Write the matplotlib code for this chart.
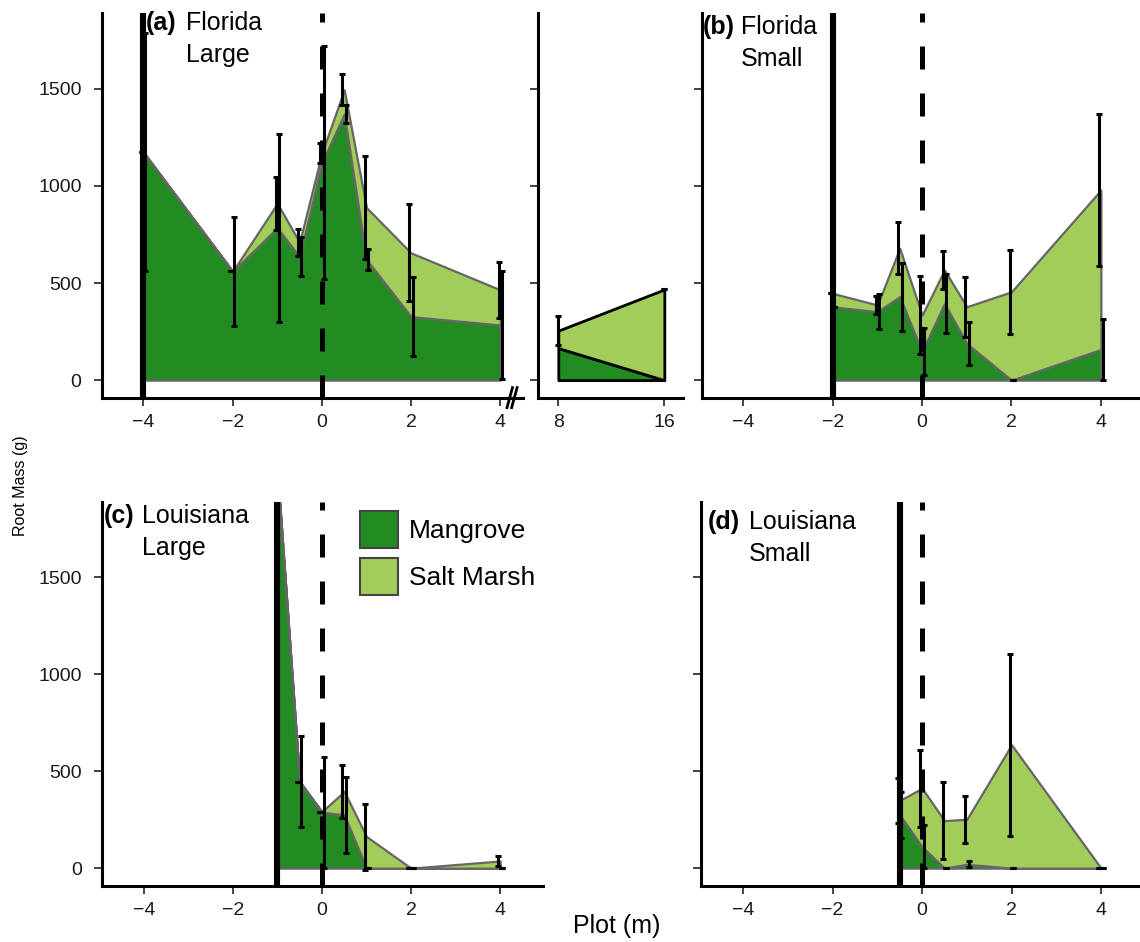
import numpy as np
import matplotlib
matplotlib.use("Agg")
import matplotlib.pyplot as plt
from matplotlib.patches import Patch
from matplotlib.lines import Line2D

plt.rcParams['font.family'] = ['Liberation Sans', 'DejaVu Sans']
plt.rcParams['axes.unicode_minus'] = True

# ---- data (root mass, g) ----
# (a) Florida Large
xa = [-4, -2, -1, -0.5, 0, 0.5, 1, 2, 4]
mang_a = [1173, 560, 785, 635, 1120, 1370, 621, 327, 284]
salt_a = [0, 0, 125, 75, 50, 125, 267, 328, 181]
mang_se_a = [613, 280, 485, 100, 600, 45, 55, 205, 280]
salt_se_a = [0, 0, 135, 70, 50, 80, 265, 250, 145]

# (a) far plots
x_far = [8, 16]
mang_far = [165, 0]
salt_far = [90, 467]
salt_se_far = [75, 0]

# (b) Florida Small
xb = [-2, -1, -0.5, 0, 0.5, 1, 2, 4]
mang_b = [378, 352, 430, 146, 395, 189, 0, 158]
salt_b = [69, 35, 249, 189, 172, 189, 455, 821]
mang_se_b = [0, 90, 175, 120, 153, 112, 0, 158]
salt_se_b = [0, 45, 133, 200, 100, 155, 215, 393]

# (c) Louisiana Large
xc = [-1, -0.5, 0, 0.5, 1, 2, 4]
mang_c = [2050, 446, 288, 275, 0, 0, 0]
salt_c = [0, 0, 4, 120, 163, 0, 37]
mang_se_c = [0, 236, 285, 195, 0, 0, 0]
salt_se_c = [0, 0, 0, 135, 170, 0, 25]

# (d) Louisiana Small
xd = [-0.5, 0, 0.5, 1, 2, 4]
mang_d = [275, 111, 0, 20, 0, 0]
salt_d = [74, 301, 245, 232, 636, 0]
mang_se_d = [120, 110, 0, 15, 0, 0]
salt_se_d = [115, 198, 200, 120, 470, 0]

# edge of stand for each panel
edges = [-4, -2, -1, -0.5]
titles = [("(a)", "Florida\nLarge"), ("(b)", "Florida\nSmall"),
          ("(c)", "Louisiana\nLarge"), ("(d)", "Louisiana\nSmall")]

dark = '#228B22'
light = '#A2CD5A'
outline = '#666666'

W, H = 1140, 942
fig = plt.figure(figsize=(W / 100, H / 100), dpi=100)

def px(l, b, r, t):
    return [l / W, 1 - b / H, (r - l) / W, (b - t) / H]

ax_a = fig.add_axes(px(101.7, 398, 523, 13.3))
ax_far = fig.add_axes(px(538.3, 398, 683, 13.3))
ax_b = fig.add_axes(px(701.7, 398, 1140, 13.3))
ax_c = fig.add_axes(px(102.3, 886, 542.7, 501.7))
ax_d = fig.add_axes(px(701, 886, 1140, 501.7))

ylim = (-92, 1889)

def style(ax, ylabels=True):
    for s in ['top', 'right']:
        ax.spines[s].set_visible(False)
    for s in ['left', 'bottom']:
        ax.spines[s].set_linewidth(2.2)
        ax.spines[s].set_color('black')
    ax.set_ylim(*ylim)
    ax.set_yticks([0, 500, 1000, 1500])
    ax.tick_params(axis='both', length=5.5, width=1.3, color='#333333',
                   labelsize=14, labelcolor='#1a1a1a')
    ax.tick_params(axis='x', pad=6)
    ax.tick_params(axis='y', pad=9)
    if not ylabels:
        ax.set_yticklabels([])

def panel(ax, x, m, s, mse, sse, edge, xlim):
    x = np.array(x, float)
    m = np.array(m, float)
    tot = m + np.array(s, float)
    ax.fill_between(x, 0, m, facecolor=dark, edgecolor=outline, lw=1.6, zorder=2)
    ax.fill_between(x, m, tot, facecolor=light, edgecolor=outline, lw=1.6, zorder=2)
    ax.axvline(edge, color='black', lw=4.4, zorder=3)
    ax.axvline(0, color='black', lw=3.6, ls=(0, (4.6, 4.8)), zorder=3)
    d = 0.04
    ax.errorbar(x - d, tot, yerr=sse, fmt='none', ecolor='black',
                elinewidth=2.2, capsize=2.5, capthick=2.2, zorder=4)
    ax.errorbar(x + d, m, yerr=mse, fmt='none', ecolor='black',
                elinewidth=2.2, capsize=2.5, capthick=2.2, zorder=4)
    ax.set_xlim(*xlim)
    ax.set_xticks([-4, -2, 0, 2, 4])

panel(ax_a, xa, mang_a, salt_a, mang_se_a, salt_se_a, edges[0], (-4.937, 4.509))
panel(ax_b, xb, mang_b, salt_b, mang_se_b, salt_se_b, edges[1], (-4.93, 4.875))
panel(ax_c, xc, mang_c, salt_c, mang_se_c, salt_se_c, edges[2], (-4.93, 4.955))
panel(ax_d, xd, mang_d, salt_d, mang_se_d, salt_se_d, edges[3], (-4.94, 4.87))

# far plots (8 and 16 m)
xf = np.array(x_far, float)
mf = np.array(mang_far, float)
tf = mf + np.array(salt_far, float)
ax_far.fill_between(xf, 0, mf, facecolor=dark, edgecolor='black', lw=2, zorder=2)
ax_far.fill_between(xf, mf, tf, facecolor=light, edgecolor='black', lw=2, zorder=2)
ax_far.errorbar(xf, tf, yerr=salt_se_far, fmt='none', ecolor='black',
                elinewidth=2.2, capsize=2.5, capthick=2.2, zorder=4)
ax_far.set_xlim(6.49, 17.41)
ax_far.set_xticks([8, 16])

style(ax_a)
style(ax_far, False)
style(ax_b, False)
style(ax_c)
style(ax_d, False)

# axis break mark
for off in (0.0, 0.011):
    ax_a.add_line(Line2D([0.962 + off, 0.975 + off], [-0.025, 0.027],
                         transform=ax_a.transAxes, color='black', lw=2,
                         clip_on=False))

# panel labels
for (b, t), (x0, x1, y0) in zip(titles, [(146, 186, 11), (702.7, 740.7, 15),
                                       (104, 141.7, 504), (708, 749, 510)]):
    fig.text(x0 / W, 1 - y0 / H, b, fontsize=18, fontweight='bold', va='top', ha='left')
    fig.text(x1 / W, 1 - y0 / H, t, fontsize=18, va='top', ha='left', linespacing=1.4)

# legend
handles = [Patch(facecolor=dark, edgecolor='#444444', lw=1.5, label='Mangrove'),
           Patch(facecolor=light, edgecolor='#444444', lw=1.5, label='Salt Marsh')]
ax_c.legend(handles=handles, loc='upper left', bbox_to_anchor=(0.585, 0.975),
            frameon=False, fontsize=19, handlelength=1.45, handleheight=1.75,
            handletextpad=0.4, labelspacing=0.4, borderpad=0, borderaxespad=0)

# axis titles
fig.text(21 / W, 1 - 486 / H, 'Root Mass (g)', rotation=90, fontsize=11.5,
         ha='center', va='center')
fig.text(617 / W, 1 - 926 / H, 'Plot (m)', fontsize=18, ha='center', va='center')

fig.savefig('out.png', dpi=100)
